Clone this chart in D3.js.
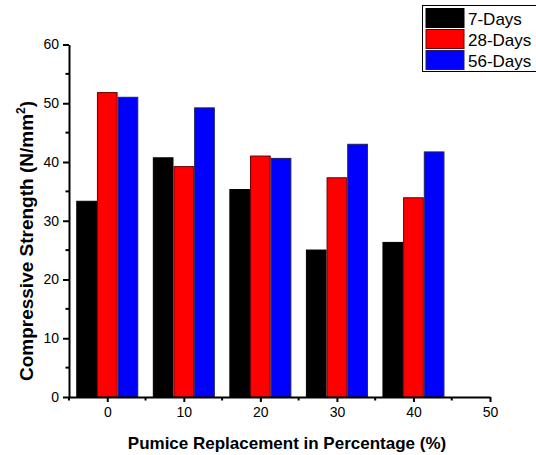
<!DOCTYPE html>
<html>
<head>
<meta charset="utf-8">
<script src="https://cdn.jsdelivr.net/npm/d3@7"></script>
<style>
  body { margin: 0; background: #fff; }
  svg { display: block; font-family: Arial, "Liberation Sans", sans-serif; }
</style>
</head>
<body>
<svg id="chart" width="536" height="455"></svg>
<script>
// pumice replacement (%)
const categories = [0, 10, 20, 30, 40];
const seriesNames = ['7-Days', '28-Days', '56-Days'];
const days7  = [33.4, 40.8, 35.4, 25.1, 26.4];
const days28 = [51.9, 39.3, 41.1, 37.4, 34.0];
const days56 = [51.1, 49.3, 40.7, 43.1, 41.8];
const xTicks = [0, 10, 20, 30, 40, 50];
const yTicks = [0, 10, 20, 30, 40, 50, 60];

const fills = ['#000000', '#ff0000', '#0000ff'];
const strokes = ['#000000', '#6b0000', '#20205a'];
const barW = 2.7; // data units

const svg = d3.select('#chart');

let x = d3.scaleLinear().domain([-5, 50]).range([69, 490]);
let y = d3.scaleLinear().domain([0, 60]).range([397, 44.5]);

const series = [days7, days28, days56];

// bars
series.forEach((vals, si) => {
  svg.append('g').selectAll('rect')
    .data(vals.map((v, i) => ({ c: categories[i], v })))
    .join('rect')
      .attr('x', d => x(d.c + (si - 1.5) * barW) + 0.5)
      .attr('width', d => x(barW) - x(0) - 1)
      .attr('y', d => y(d.v) + 0.5)
      .attr('height', d => y(0) - y(d.v) - 0.5)
      .attr('fill', fills[si])
      .attr('stroke', strokes[si])
      .attr('stroke-width', 1);
});

// axes
const xAxis = svg.append('g')
  .attr('transform', `translate(0,${y(0)})`)
  .call(d3.axisBottom(x).tickValues(xTicks).tickSize(5).tickSizeOuter(0).tickPadding(5));
const yAxis = svg.append('g')
  .attr('transform', `translate(${x(-5)},0)`)
  .call(d3.axisLeft(y).tickValues(yTicks).tickSize(6).tickSizeOuter(0).tickPadding(4));

[xAxis, yAxis].forEach(g => {
  g.select('.domain').attr('stroke', '#000').attr('stroke-width', 2);
  g.selectAll('.tick line').attr('stroke', '#000').attr('stroke-width', 2);
  g.selectAll('.tick text').attr('font-size', 14).attr('fill', '#000')
    .attr('font-family', 'Arial, "Liberation Sans", sans-serif');
});

// minor ticks
svg.append('g').selectAll('line')
  .data([-5, 5, 15, 25, 35, 45])
  .join('line')
    .attr('x1', d => x(d)).attr('x2', d => x(d))
    .attr('y1', y(0)).attr('y2', y(0) + 3.5)
    .attr('stroke', '#000').attr('stroke-width', 2);
svg.append('g').selectAll('line')
  .data([5, 15, 25, 35, 45, 55])
  .join('line')
    .attr('x1', x(-5) - 3.5).attr('x2', x(-5))
    .attr('y1', d => y(d)).attr('y2', d => y(d))
    .attr('stroke', '#000').attr('stroke-width', 2);

// axis titles
svg.append('text')
  .attr('x', 287).attr('y', 449)
  .attr('text-anchor', 'middle')
  .attr('font-size', 17).attr('font-weight', 'bold')
  .text('Pumice Replacement in Percentage (%)');

const yt = svg.append('text')
  .attr('transform', 'translate(33,241) rotate(-90)')
  .attr('text-anchor', 'middle')
  .attr('font-size', 19).attr('font-weight', 'bold');
yt.append('tspan').text('Compressive Strength (N/mm');
yt.append('tspan').attr('font-size', 12).attr('dy', -8).text('2');
yt.append('tspan').attr('dy', 8).text(')');

// legend
const lg = svg.append('g');
lg.append('rect')
  .attr('x', 422.5).attr('y', 5.5).attr('width', 120).attr('height', 66)
  .attr('fill', '#fff').attr('stroke', '#000').attr('stroke-width', 1);
seriesNames.forEach((name, i) => {
  const ry = 8.5 + i * 21;
  lg.append('rect')
    .attr('x', 426).attr('y', ry).attr('width', 38).attr('height', 19)
    .attr('fill', fills[i]).attr('stroke', strokes[i]).attr('stroke-width', 1);
  lg.append('text')
    .attr('x', 468).attr('y', ry + 16)
    .attr('font-size', 17)
    .text(name);
});
</script>
</body>
</html>
